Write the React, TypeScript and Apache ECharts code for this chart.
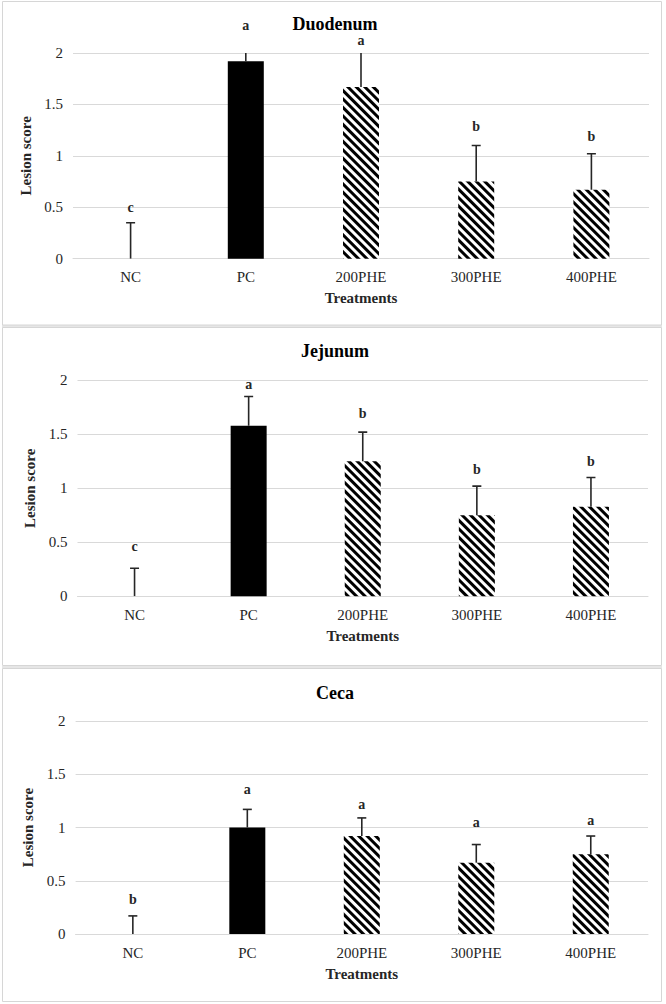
import React, { useEffect, useRef } from "react";
import * as echarts from "echarts";

const categories = ["NC", "PC", "200PHE", "300PHE", "400PHE"];
const panelTitles = ["Duodenum", "Jejunum", "Ceca"];

const duodenumMeans = [0, 1.92, 1.67, 0.75, 0.67];
const duodenumUpper = [0.35, 2.3, 2.4, 1.1, 1.02];
const duodenumLetters = ["c", "a", "a", "b", "b"];
const duodenumLetterY = [0.5, 2.27, 2.12, 1.29, 1.19];

const jejunumMeans = [0, 1.58, 1.25, 0.75, 0.83];
const jejunumUpper = [0.26, 1.85, 1.52, 1.02, 1.1];
const jejunumLetters = ["c", "a", "b", "b", "b"];
const jejunumLetterY = [0.46, 1.96, 1.69, 1.17, 1.25];

const cecaMeans = [0, 1.0, 0.92, 0.67, 0.75];
const cecaUpper = [0.17, 1.17, 1.09, 0.84, 0.92];
const cecaLetters = ["b", "a", "a", "a", "a"];
const cecaLetterY = [0.32, 1.36, 1.22, 1.05, 1.07];

const yMin = 0;
const yMax = 2;
const yInterval = 0.5;

const panels = [
  { means: duodenumMeans, upper: duodenumUpper, letters: duodenumLetters, letterY: duodenumLetterY },
  { means: jejunumMeans, upper: jejunumUpper, letters: jejunumLetters, letterY: jejunumLetterY },
  { means: cecaMeans, upper: cecaUpper, letters: cecaLetters, letterY: cecaLetterY },
];

const FONT = "Liberation Serif";
const TXT = "#262626";

const gridsLayout = [
  { left: 73, right: 17, top: 53, height: 205.7, title: 23.5, yGap: 34 },
  { left: 77.5, right: 18, top: 380.3, height: 216, title: 350.7, yGap: 36 },
  { left: 75.6, right: 18, top: 721, height: 213, title: 692.7, yGap: 35 },
];

const panelRects = [
  { y: 1.5, h: 323.5 },
  { y: 327.5, h: 338 },
  { y: 668.5, h: 333 },
];

export default function App() {
  const ref = useRef<HTMLDivElement>(null);
  useEffect(() => {
    document.body.style.margin = "0";
    const chart = echarts.init(ref.current!, null, { renderer: "svg" });
    const hatch = {
      symbol: "rect",
      symbolSize: 1,
      dashArrayX: [1, 0],
      dashArrayY: [2.7, 2.5],
      rotation: Math.PI / 4,
      color: "#000",
      backgroundColor: "#fff",
    };
    const series: any[] = [];
    panels.forEach((p, gi) => {
      series.push({
        type: "bar",
        xAxisIndex: gi,
        yAxisIndex: gi,
        barWidth: 36,
        data: p.means.map((v, i) => ({
          value: v,
          itemStyle:
            i === 1
              ? { color: "#000" }
              : { color: "#fff", decal: hatch },
        })),
      });
      series.push({
        type: "custom",
        xAxisIndex: gi,
        yAxisIndex: gi,
        clip: true,
        z: 5,
        encode: { x: 0, y: [1, 2] },
        data: p.means.map((v, i) => [i, v, p.upper[i]]),
        renderItem: (params: any, api: any) => {
          const x = api.value(0);
          const p0 = api.coord([x, api.value(1)]);
          const p1 = api.coord([x, api.value(2)]);
          const cap = 4.5;
          const st = { stroke: "#262626", lineWidth: 1.6 };
          return {
            type: "group",
            children: [
              { type: "line", shape: { x1: p0[0], y1: p0[1], x2: p1[0], y2: p1[1] }, style: st },
              { type: "line", shape: { x1: p1[0] - cap, y1: p1[1], x2: p1[0] + cap, y2: p1[1] }, style: st },
            ],
          };
        },
      });
      series.push({
        type: "custom",
        xAxisIndex: gi,
        yAxisIndex: gi,
        clip: false,
        z: 6,
        encode: { x: 0, y: 1 },
        data: p.letterY.map((v, i) => [i, v]),
        renderItem: (params: any, api: any) => {
          const idx = params.dataIndex;
          const pt = api.coord([api.value(0), api.value(1)]);
          return {
            type: "text",
            style: {
              text: p.letters[idx],
              x: pt[0],
              y: pt[1],
              textAlign: "center",
              textVerticalAlign: "middle",
              fontFamily: FONT,
              fontWeight: "bold",
              fontSize: 14,
              fill: TXT,
            },
          };
        },
      });
    });

    const graphics: any[] = [];
    panelRects.forEach((r) => {
      graphics.push({
        type: "rect",
        z: -10,
        shape: { x: 2.5, y: r.y, width: 659, height: r.h },
        style: { fill: "#fff", stroke: "#d6d6d6", lineWidth: 1 },
      });
    });
    graphics.push({ type: "rect", z: -11, shape: { x: 2, y: 325, width: 660, height: 2.5 }, style: { fill: "#e6e6e6" } });
    graphics.push({ type: "rect", z: -11, shape: { x: 2, y: 666, width: 660, height: 2.5 }, style: { fill: "#e6e6e6" } });

    chart.setOption({
      animation: false,
      backgroundColor: "#fff",
      graphic: graphics,
      title: panelTitles.map((t, i) => ({
        text: t,
        left: 335,
        top: gridsLayout[i].title - 9,
        textAlign: "center",
        padding: 0,
        textStyle: { fontFamily: FONT, fontWeight: "bold", fontSize: 18, lineHeight: 18, color: "#000" },
      })),
      grid: gridsLayout.map((g) => ({ left: g.left, right: g.right, top: g.top, height: g.height, containLabel: false })),
      xAxis: gridsLayout.map((g, i) => ({
        type: "category",
        gridIndex: i,
        data: categories,
        axisTick: { show: false },
        axisLine: { show: true, lineStyle: { color: "#d9d9d9", width: 1 } },
        axisLabel: { fontFamily: FONT, fontSize: 15, color: TXT, margin: 11 },
        name: "Treatments",
        nameLocation: "middle",
        nameGap: 32,
        nameTextStyle: { fontFamily: FONT, fontWeight: "bold", fontSize: 15, color: TXT },
      })),
      yAxis: gridsLayout.map((g, i) => ({
        type: "value",
        gridIndex: i,
        min: yMin,
        max: yMax,
        interval: yInterval,
        axisLine: { show: false },
        axisTick: { show: false },
        splitLine: { lineStyle: { color: "#d9d9d9", width: 1 } },
        axisLabel: { fontFamily: FONT, fontSize: 15, color: TXT, margin: 10 },
        name: "Lesion score",
        nameLocation: "middle",
        nameGap: g.yGap,
        nameTextStyle: { fontFamily: FONT, fontWeight: "bold", fontSize: 15, color: TXT },
      })),
      series,
    });
    return () => chart.dispose();
  }, []);
  return <div ref={ref} style={{ width: 666, height: 1004 }} />;
}
